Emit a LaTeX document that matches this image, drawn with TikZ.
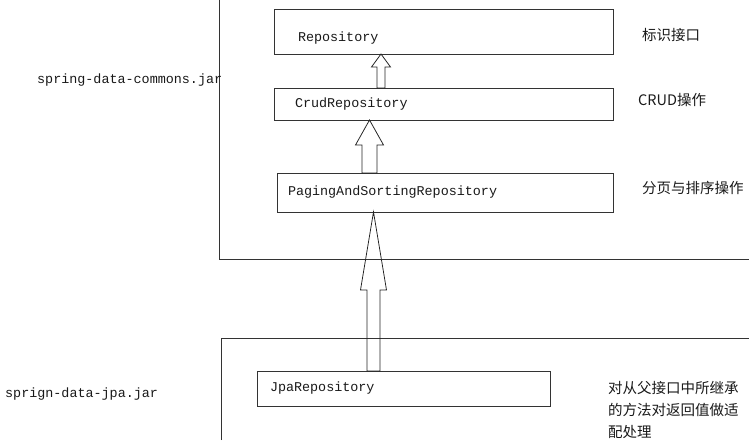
\documentclass[tikz,border=0pt]{standalone}
\usepackage{fontspec}
\setmonofont{Liberation Mono}
\newfontfamily\cjk{Noto Sans CJK SC}
\usetikzlibrary{calc}

% hollow block arrow: bottom point, tip point, shaft half width, head half width, head length
\newcommand{\fatarrow}[5]{%
  \draw[fat] let \p1=(#1), \p2=(#2) in
    (\x1-#3,\y1) -- (\x1-#3,\y2-#5) -- (\x1-#4,\y2-#5) -- (\x2,\y2)
    -- (\x1+#4,\y2-#5) -- (\x1+#3,\y2-#5) -- (\x1+#3,\y1) -- cycle;}

\begin{document}
\begin{tikzpicture}[
  x=1pt, y=-1pt,
  font=\ttfamily\fontsize{13.4}{16}\selectfont,
  box/.style={
    draw=black!80,
    line width=0.8pt,
    align=left,
    inner ysep=0pt,
    outer sep=0pt,
    text=black!90
  },
  frame/.style={draw=black!80, line width=0.8pt},
  fat/.style={draw=black!85, line width=0.8pt, line join=miter},
  jar/.style={font=\ttfamily\fontsize{13.4}{16}\selectfont, text=black!90, inner sep=0pt, anchor=west},
  note/.style={font=\cjk\fontsize{14.5}{22}\selectfont, text=black!90, inner sep=0pt, anchor=west, align=left}
]
\useasboundingbox (0,0) rectangle (749,440);

% jar frames
\draw[frame] (219,0) |- (749,259);
\draw[frame] (221,440) |- (749,338);

\node[box, minimum height=45pt, inner xsep=24pt, text width=291pt] (repo) at (443.5,31.5)
  {\raisebox{-5pt}[\height][0pt]{Repository}};

\node[box, minimum height=32pt, inner xsep=21pt, text width=297pt] (crud) at (443.5,104)
  {CrudRepository};

\node[box, minimum height=39pt, inner xsep=11pt, text width=314pt] (paging) at (445,192.5)
  {PagingAndSortingRepository};

\node[box, minimum height=35pt, inner xsep=13pt, text width=267pt] (jpa) at (403.5,388.5)
  {JpaRepository};

\node[jar] (commons) at (37,80) {spring-data-commons.jar};
\node[jar] (jpajar) at (5,394) {sprign-data-jpa.jar};

\node[note] (n1) at (642,35) {标识接口};
\node[note] (n2) at (638,100) {CRUD操作};
\node[note] (n3) at (642,188) {分页与排序操作};
\node[note] (n4) at (608,410)
  {对从父接口中所继承\\的方法对返回值做适\\配处理};

\coordinate (x1) at (381,0);
\coordinate (x2) at (369.5,0);
\coordinate (x3) at (373.5,0);

\fatarrow{x1 |- crud.north}{x1 |- repo.south}{4pt}{9.5pt}{13pt}
\fatarrow{x2 |- paging.north}{x2 |- crud.south}{7.5pt}{14pt}{25pt}
\fatarrow{x3 |- jpa.north}{x3 |- paging.south}{6.5pt}{13pt}{78pt}

\end{tikzpicture}
\end{document}
